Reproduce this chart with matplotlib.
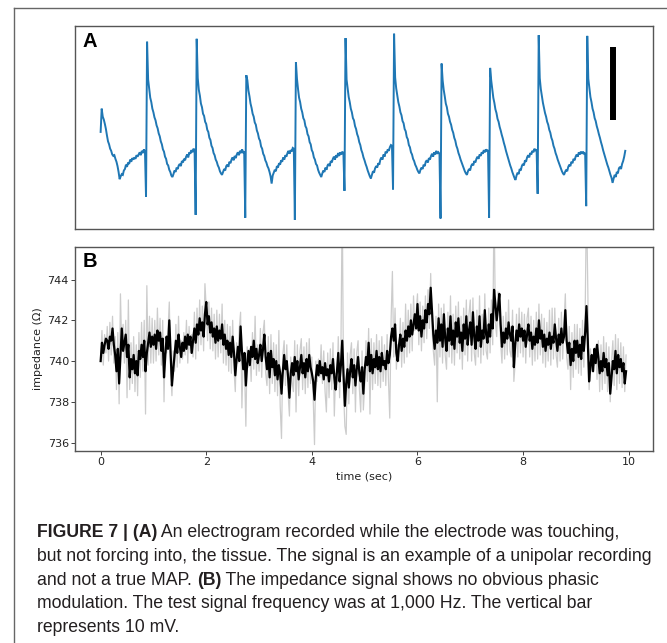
import numpy as np
import matplotlib
matplotlib.use("Agg")
import matplotlib.pyplot as plt
from matplotlib.lines import Line2D
from matplotlib import font_manager

# ---------------------------------------------------------------- data
# Panel A: unipolar electrogram (mV), sampled every 20 ms
ecg_dt = 0.02
ecg_mv = [
    # lead-in
    2.9, 6.1, 5.0, 4.6, 4.0, 3.3, 2.4, 1.6, 1.2, 0.6, 0.3, -0.2, -0.4, -0.3, -0.8,
    -1.2, -1.8, -2.6, -3.6, -3.2, -2.9, -3.0, -2.4, -2.2, -1.6, -1.9, -1.3, -1.5,
    -0.9, -1.2, -0.7, -0.9, -0.6, -0.8, -0.3, -0.5, -0.2, 0.1, -0.3, 0.3, 0.0, 0.5, 0.2,
    # beat 1
    -6.0, 15.3, 10.1, 8.9, 7.6, 7.0, 6.1, 5.6, 4.9, 4.5, 3.8, 3.4, 2.7, 2.3, 1.6, 1.2,
    0.5, 0.2, -0.5, -0.8, -1.5, -1.7, -2.3, -2.6, -3.1, -3.3,
    -2.9, -2.4, -2.6, -2.0, -2.2, -1.7, -1.5, -1.8, -1.1, -1.3, -0.8, -1.0, -0.5, -0.2,
    -0.6, 0.1, -0.1, 0.4, 0.1, 0.6, 0.4,
    # beat 2
    -8.5, 15.7, 10.3, 8.7, 7.9, 6.8, 6.3, 5.4, 5.1, 4.3, 4.0, 3.2, 2.9, 2.1, 1.8, 1.0,
    0.7, 0.0, -0.3, -0.9, -1.2, -1.7, -2.0, -2.5, -2.8, -3.0,
    -2.6, -2.2, -2.4, -1.8, -1.6, -1.9, -1.2, -1.4, -0.9, -0.6, -1.0, -0.4, -0.7, -0.2,
    0.1, -0.3, 0.3, 0.0, 0.5, 0.1, 0.2,
    # beat 3
    -8.9, 10.7, 10.0, 8.6, 7.8, 6.8, 6.2, 5.4, 5.0, 4.2, 3.9, 3.1, 2.7, 2.0, 1.7, 0.9,
    0.6, -0.1, -0.4, -1.0, -1.3, -1.8, -2.1, -2.6, -3.2, -4.2,
    -3.1, -2.7, -2.3, -2.5, -1.8, -2.0, -1.4, -1.6, -1.0, -1.2, -0.6, -0.9, -0.3, -0.5,
    0.0, 0.3, -0.1, 0.4, 0.2, 0.7, 0.6,
    # beat 4
    -9.2, 12.5, 10.2, 8.8, 7.6, 7.0, 6.1, 5.6, 4.8, 4.5, 3.7, 3.4, 2.6, 2.3, 1.5, 1.2,
    0.4, 0.1, -0.6, -0.9, -1.5, -1.7, -2.3, -2.7, -3.0, -3.3,
    -2.8, -2.4, -2.6, -2.0, -2.3, -1.7, -1.5, -1.8, -1.1, -1.3, -0.8, -0.5, -0.9, -0.3,
    -0.6, 0.0, -0.4, 0.1, -0.2, 0.2, -0.1,
    # beat 5
    -5.2, 15.8, 10.1, 8.9, 7.7, 7.0, 6.1, 5.6, 4.8, 4.5, 3.7, 3.3, 2.6, 2.2, 1.5, 1.1,
    0.4, 0.0, -0.6, -1.0, -1.5, -1.9, -2.4, -2.8, -3.2, -3.5,
    -3.0, -2.5, -2.7, -2.1, -1.8, -2.0, -1.4, -1.6, -0.9, -0.6, -0.9, -0.2, -0.5, 0.2,
    0.0, 0.5, 0.3, 0.8, 1.1, 1.0,
    # beat 6
    -5.0, 16.4, 10.4, 8.9, 7.9, 7.0, 6.4, 5.6, 5.2, 4.4, 4.1, 3.3, 3.0, 2.2, 1.9, 1.1,
    0.8, 0.1, -0.2, -0.8, -1.1, -1.6, -1.9, -2.3, -2.6, -2.8,
    -2.3, -2.0, -2.2, -1.6, -1.8, -1.2, -1.0, -1.3, -0.7, -0.9, -0.4, -0.1, -0.5, 0.1,
    -0.2, 0.3, -0.1, 0.1, -0.1,
    # beat 7
    -9.0, 12.3, 10.0, 8.7, 7.8, 6.8, 6.3, 5.4, 5.0, 4.3, 3.9, 3.2, 2.8, 2.1, 1.7, 1.0,
    0.6, 0.0, -0.4, -0.9, -1.3, -1.7, -2.1, -2.5, -2.8, -3.0,
    -2.5, -2.2, -2.4, -1.8, -1.5, -1.7, -1.1, -1.3, -0.8, -0.5, -0.8, -0.2, -0.4, 0.1,
    -0.1, 0.4, 0.1, 0.5, 0.3, 0.4,
    # beat 8
    -8.9, 11.7, 10.0, 8.8, 7.6, 6.9, 6.0, 5.5, 4.7, 4.3, 3.6, 3.1, 2.5, 2.0, 1.4, 0.9,
    0.3, -0.2, -0.7, -1.2, -1.7, -2.1, -2.6, -3.0, -3.4, -3.7,
    -3.1, -2.7, -2.9, -2.2, -2.4, -1.8, -1.5, -1.7, -1.0, -1.2, -0.6, -0.3, -0.6, 0.0,
    -0.2, 0.3, 0.1, 0.6, 0.3, 0.5,
    # beat 9
    -5.6, 16.2, 10.3, 8.8, 7.8, 6.9, 6.2, 5.5, 5.0, 4.3, 3.9, 3.2, 2.8, 2.1, 1.7, 1.0,
    0.6, 0.0, -0.4, -0.9, -1.3, -1.7, -2.1, -2.5, -2.8, -3.0,
    -2.6, -2.3, -2.5, -1.9, -1.6, -1.8, -1.2, -1.4, -0.8, -1.0, -0.5, -0.2, -0.5, 0.1,
    -0.2, 0.2, -0.1, 0.2, -0.1, 0.0,
    # beat 10
    -7.3, 16.1, 10.2, 8.9, 7.7, 7.0, 6.1, 5.6, 4.8, 4.4, 3.7, 3.2, 2.6, 2.1, 1.5, 1.0,
    0.4, -0.1, -0.6, -1.1, -1.6, -2.0, -2.5, -3.0, -3.4, -4.1,
    -3.5, -3.0, -3.3, -2.6, -2.8, -2.1, -1.9, -2.2, -1.5, -1.1, -0.5, 0.3,
]
scale_bar_mv = 10.0
scale_bar_time = 9.70
scale_bar_top = 14.6

# Panel B: impedance (ohm), sampled every 25 ms
imp_dt = 0.025
imp_smooth = [
    740.0, 740.9, 740.4, 740.8, 741.1, 741.0, 740.6, 741.2, 741.0, 741.6, 740.8, 740.3, 739.5, 740.6, 738.9, 740.2, 741.6, 740.5, 740.9, 741.3,
    740.2, 740.8, 739.2, 740.1, 739.6, 740.3, 739.4, 740.0, 739.3, 740.5, 740.1, 740.8, 740.2, 741.0, 739.5, 740.4, 740.9, 741.4, 740.7, 741.2,
    740.8, 741.3, 740.6, 741.5, 741.0, 741.4, 740.5, 741.1, 739.2, 740.3, 741.2, 740.6, 742.0, 740.4, 738.8, 739.6, 740.3, 741.0, 740.4, 741.3,
    740.7, 740.2, 740.9, 740.5, 741.2, 740.6, 741.3, 740.8, 741.2, 740.4, 741.0, 741.6, 740.9, 741.8, 741.3, 742.1, 741.5, 741.9, 741.2, 742.3,
    742.9, 741.8, 742.2, 741.4, 741.9, 741.2, 741.6, 740.9, 741.7, 741.0, 741.5, 741.1, 741.8, 740.8, 741.3, 740.6, 741.0, 740.3, 740.9, 740.2,
    741.2, 740.4, 739.3, 740.1, 740.7, 740.0, 741.7, 740.5, 739.6, 740.4, 738.8, 739.9, 740.5, 739.8, 740.7, 740.2, 741.0, 740.1, 740.6, 739.9,
    740.3, 740.8, 740.0, 740.6, 741.3, 740.2, 739.6, 740.4, 739.2, 740.5, 739.7, 740.1, 739.3, 740.0, 739.1, 739.8, 739.4, 738.4, 739.5, 740.3,
    739.6, 740.0, 739.2, 738.2, 739.4, 739.9, 739.3, 740.2, 739.5, 740.0, 739.1, 739.7, 740.3, 739.4, 739.9, 739.2, 740.1, 739.5, 740.3, 739.7,
    739.4, 739.0, 738.1, 739.2, 739.8, 739.3, 740.0, 739.4, 739.7, 739.1, 739.9, 739.3, 739.6, 739.0, 739.8, 739.4, 740.1, 739.2, 738.6, 739.5,
    740.4, 739.0, 739.8, 741.0, 739.3, 737.8, 738.9, 739.6, 738.7, 739.5, 740.1, 739.2, 739.8, 738.8, 739.6, 740.2, 739.4, 739.0, 739.7, 738.4,
    739.6, 740.2, 739.8, 740.9, 739.5, 740.3, 739.4, 740.1, 739.7, 740.5, 739.6, 740.2, 739.5, 740.4, 739.8, 740.0, 739.6, 740.5, 739.9, 740.3,
    741.2, 741.6, 741.0, 741.8, 740.4, 740.0, 740.8, 741.3, 740.5, 741.1, 740.7, 741.5, 741.0, 741.7, 741.2, 742.0, 741.3, 741.8, 742.3, 741.6,
    742.8, 741.5, 742.2, 741.2, 742.0, 741.6, 742.5, 741.9, 742.8, 742.3, 743.6, 742.4, 741.3, 740.6, 741.5, 740.9, 742.1, 741.0, 741.8, 740.7,
    742.3, 741.1, 740.5, 741.6, 741.0, 742.2, 740.8, 741.5, 740.6, 741.9, 741.2, 742.1, 740.9, 741.4, 740.5, 741.8, 741.1, 742.2, 740.8, 741.5,
    741.9, 740.8, 742.4, 741.2, 740.6, 741.7, 741.0, 742.2, 740.7, 741.5, 741.1, 742.5, 741.3, 740.9, 741.8, 741.2, 742.3, 741.6, 743.5, 742.8,
    742.0, 742.6, 743.3, 741.8, 740.7, 741.4, 740.9, 741.6, 741.1, 741.9, 741.3, 741.0, 741.7, 739.7, 740.8, 741.5, 741.0, 741.8, 741.2, 741.6,
    741.0, 741.5, 740.7, 741.3, 741.8, 741.0, 741.4, 740.6, 741.2, 740.8, 741.6, 740.9, 742.0, 741.1, 741.5, 740.7, 741.3, 740.5, 741.1, 740.8,
    741.4, 740.6, 741.2, 740.9, 741.8, 741.1, 740.5, 741.3, 740.8, 741.6, 740.9, 741.2, 742.5, 741.0, 740.4, 740.9, 739.8, 740.6, 740.0, 741.0,
    740.4, 741.0, 740.2, 740.8, 740.1, 741.2, 740.5, 741.4, 742.7, 741.0, 739.0, 739.8, 740.3, 739.5, 740.6, 739.9, 740.8, 740.2, 739.4, 740.0,
    739.5, 740.4, 739.7, 740.1, 739.3, 739.9, 738.4, 739.2, 740.0, 739.6, 740.5, 739.4, 740.3, 739.7, 740.1, 739.5, 739.9, 738.9, 739.5,
]
imp_raw = [
    740.2, 741.5, 739.8, 741.3, 740.4, 741.7, 740.0, 741.9, 740.3, 742.2, 739.9, 741.2, 738.6, 741.4, 737.9, 743.3, 740.6, 741.8, 739.9, 742.0,
    738.2, 743.0, 738.6, 740.9, 738.9, 741.2, 738.5, 740.8, 738.3, 741.4, 739.2, 741.9, 739.5, 742.0, 737.4, 743.7, 739.8, 742.2, 739.9, 742.1,
    739.9, 742.0, 740.0, 742.6, 740.3, 742.1, 739.8, 742.0, 738.0, 741.2, 740.4, 741.5, 742.9, 739.6, 738.3, 740.5, 739.5, 741.8, 739.7, 742.2,
    739.9, 741.0, 740.1, 741.4, 740.3, 742.0, 739.9, 741.7, 740.4, 741.3, 740.2, 742.4, 740.1, 742.6, 740.5, 743.0, 740.8, 742.7, 740.5, 743.8,
    742.6, 741.0, 742.9, 740.6, 742.6, 740.5, 742.3, 740.1, 742.5, 740.2, 742.3, 740.4, 742.8, 739.9, 742.0, 739.8, 741.8, 739.5, 741.7, 739.4,
    742.0, 739.6, 738.5, 740.9, 739.9, 741.6, 742.4, 737.7, 740.4, 739.6, 736.8, 740.7, 739.7, 740.6, 739.0, 741.4, 739.6, 742.2, 739.3, 740.8,
    739.5, 741.6, 739.2, 741.4, 742.0, 739.4, 738.8, 741.2, 738.4, 741.3, 738.9, 740.9, 738.5, 740.8, 738.3, 741.5, 737.8, 736.2, 740.3, 741.0,
    738.8, 740.8, 738.4, 737.3, 740.2, 739.0, 738.5, 741.0, 737.5, 740.8, 738.3, 740.5, 741.1, 738.6, 740.7, 738.4, 740.9, 738.7, 741.1, 738.9,
    740.2, 738.2, 735.9, 740.0, 739.0, 740.1, 739.2, 740.8, 738.9, 740.5, 738.5, 737.5, 740.4, 738.2, 740.6, 738.6, 740.9, 737.3, 739.4, 738.7,
    741.2, 738.2, 740.6, 748.0, 738.5, 736.8, 736.4, 740.4, 737.9, 740.3, 740.9, 738.4, 740.6, 737.5, 740.4, 741.0, 738.6, 737.5, 740.5, 737.6,
    738.8, 741.0, 739.0, 741.6, 737.4, 741.1, 738.6, 740.9, 738.9, 741.3, 738.8, 741.0, 738.7, 741.2, 739.0, 740.8, 738.8, 741.3, 739.1, 737.2,
    742.0, 744.4, 740.2, 742.6, 739.6, 740.8, 740.0, 742.1, 739.7, 741.9, 739.9, 742.8, 740.2, 742.5, 740.4, 742.8, 740.5, 743.2, 741.5, 742.4,
    743.3, 740.8, 742.9, 740.5, 742.7, 740.9, 743.2, 741.1, 743.5, 741.6, 744.3, 741.6, 740.5, 739.8, 742.2, 738.0, 742.8, 740.2, 742.6, 739.9,
    742.8, 740.3, 739.6, 742.4, 740.2, 743.2, 739.9, 742.3, 739.8, 742.7, 740.4, 742.9, 740.1, 742.2, 739.6, 742.6, 740.3, 743.0, 740.0, 742.3,
    743.0, 740.0, 743.1, 740.4, 739.8, 742.5, 740.2, 743.2, 739.9, 742.3, 740.3, 743.3, 740.5, 740.1, 742.6, 740.4, 743.0, 740.8, 748.0, 741.9,
    741.2, 743.4, 742.6, 740.9, 739.9, 742.2, 740.1, 742.4, 740.3, 743.0, 740.5, 740.2, 742.5, 739.0, 739.9, 742.3, 740.2, 742.6, 740.4, 742.4,
    740.2, 742.3, 739.9, 742.1, 742.6, 740.2, 742.2, 739.8, 742.0, 740.0, 742.4, 740.1, 742.8, 740.3, 742.3, 739.9, 742.1, 739.7, 741.9, 740.0,
    742.5, 739.8, 742.6, 740.1, 742.6, 740.3, 739.7, 742.1, 740.0, 742.4, 740.1, 741.9, 743.3, 740.2, 739.6, 741.7, 738.6, 741.4, 739.2, 741.8,
    739.6, 741.8, 739.4, 741.6, 739.3, 742.0, 739.7, 742.2, 748.0, 743.6, 738.6, 740.6, 739.5, 740.3, 739.8, 740.7, 739.1, 741.0, 738.5, 740.8,
    738.6, 741.2, 738.9, 740.9, 738.5, 740.7, 738.0, 740.0, 741.0, 738.8, 741.3, 738.6, 741.1, 738.9, 740.9, 738.7, 740.7, 738.5, 740.3,
]
imp_ticks = [736, 738, 740, 742, 744]
time_ticks = [0, 2, 4, 6, 8, 10]

caption_lines = [
    [("FIGURE 7 | (A)", "bold"), (" An electrogram recorded while the electrode was touching,", "normal")],
    [("but not forcing into, the tissue. The signal is an example of a unipolar recording", "normal")],
    [("and not a true MAP. ", "normal"), ("(B)", "bold"), (" The impedance signal shows no obvious phasic", "normal")],
    [("modulation. The test signal frequency was at 1,000 Hz. The vertical bar", "normal")],
    [("represents 10 mV.", "normal")],
]

# ---------------------------------------------------------------- figure
W, H, DPI = 667, 643, 100
fig = plt.figure(figsize=(W / DPI, H / DPI), dpi=DPI)
fig.patch.set_facecolor("white")


def px_rect(left, top, right, bottom):
    return [left / W, 1 - bottom / H, (right - left) / W, (bottom - top) / H]


frame_color = "#555555"
fig.add_artist(Line2D([14 / W, 14 / W], [1 - 8 / H, 0], color="#666666", lw=1.0))
fig.add_artist(Line2D([14 / W, 1], [1 - 8 / H, 1 - 8 / H], color="#666666", lw=1.0))

xlim = (-0.48, 10.46)

# ---- panel A
axA = fig.add_axes(px_rect(75.3, 25.7, 652.7, 228.7))
t_ecg = np.arange(len(ecg_mv)) * ecg_dt
axA.plot(t_ecg, ecg_mv, color="#1f77b4", lw=1.4, solid_joinstyle="miter")
axA.plot([scale_bar_time, scale_bar_time],
         [scale_bar_top - scale_bar_mv, scale_bar_top],
         color="black", lw=4.3, solid_capstyle="butt")
axA.set_xlim(*xlim)
axA.set_ylim(-10.4, 17.5)
axA.set_xticks([])
axA.set_yticks([])
axA.text(0.012, 0.893, "A", transform=axA.transAxes, fontsize=14.5,
         fontweight="bold", family="Liberation Sans", va="baseline", ha="left")

# ---- panel B
axB = fig.add_axes(px_rect(75.3, 247, 653, 450.7))
t_imp = np.arange(len(imp_smooth)) * imp_dt
axB.plot(t_imp, imp_raw, color="#cccccc", lw=0.9)
axB.plot(t_imp, imp_smooth, color="black", lw=1.6)
axB.set_xlim(*xlim)
axB.set_ylim(735.6, 745.6)
axB.set_xticks(time_ticks)
axB.set_yticks(imp_ticks)
axB.tick_params(labelsize=8, length=2.6, width=0.6, colors="#222222", pad=2)
axB.set_xlabel("time (sec)", fontsize=8, color="#222222", labelpad=3)
axB.set_ylabel("impedance (\u03a9)", fontsize=8, color="#222222", labelpad=3)
axB.text(0.012, 0.9, "B", transform=axB.transAxes, fontsize=14.5,
         fontweight="bold", family="Liberation Sans", va="baseline", ha="left")

for ax in (axA, axB):
    for s in ax.spines.values():
        s.set_color(frame_color)
        s.set_linewidth(1.0)

# ---- caption
names = {f.name for f in font_manager.fontManager.ttflist}
cap_family = "Liberation Sans Narrow" if "Liberation Sans Narrow" in names else "Liberation Sans"
cap_size = 15.0 if cap_family == "Liberation Sans Narrow" else 12.7

fig.canvas.draw()
renderer = fig.canvas.get_renderer()
line_y = [537, 561, 585, 608, 632]
for pieces, y in zip(caption_lines, line_y):
    x = 37.0
    for s, weight in pieces:
        t = fig.text(x / W, 1 - y / H, s, fontsize=cap_size, family=cap_family,
                     fontweight=weight, color="#231f20", va="baseline", ha="left")
        x += t.get_window_extent(renderer=renderer).width

fig.savefig("out.png", dpi=DPI, facecolor="white")
